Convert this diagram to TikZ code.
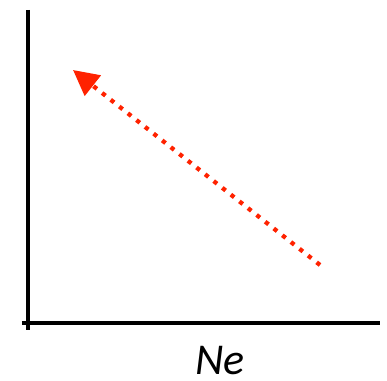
\documentclass[tikz,border=0pt]{standalone}
\usepackage{fontspec}
\setmainfont{Carlito}
\usetikzlibrary{arrows.meta}

\definecolor{trendred}{RGB}{255,34,0}

\begin{document}
\begin{tikzpicture}[x=0.75pt, y=-0.75pt]
    \useasboundingbox (0,0) rectangle (387,381);
    % axes
    \coordinate (origin) at (28,323);
    \coordinate (ytop) at (28,10);
    \coordinate (ybot) at (28,330);
    \coordinate (xleft) at (22,323);
    \coordinate (xright) at (380,323);
    \draw[line width=2.3pt] (ytop) -- (ybot);
    \draw[line width=2.3pt] (xleft) -- (xright);
    \node[font=\itshape\fontsize{33}{36}\selectfont, inner sep=0pt, anchor=base]
        (xlabel) at (220,375) {Ne};

    % dotted trend arrow
    \coordinate (start) at (320,265);
    \coordinate (tip) at (73,70);
    \draw[trendred, line width=3.2pt, dash pattern=on 3.2pt off 5pt,
          -{Triangle[length=19pt, width=19pt]}] (start) -- (tip);
\end{tikzpicture}
\end{document}
